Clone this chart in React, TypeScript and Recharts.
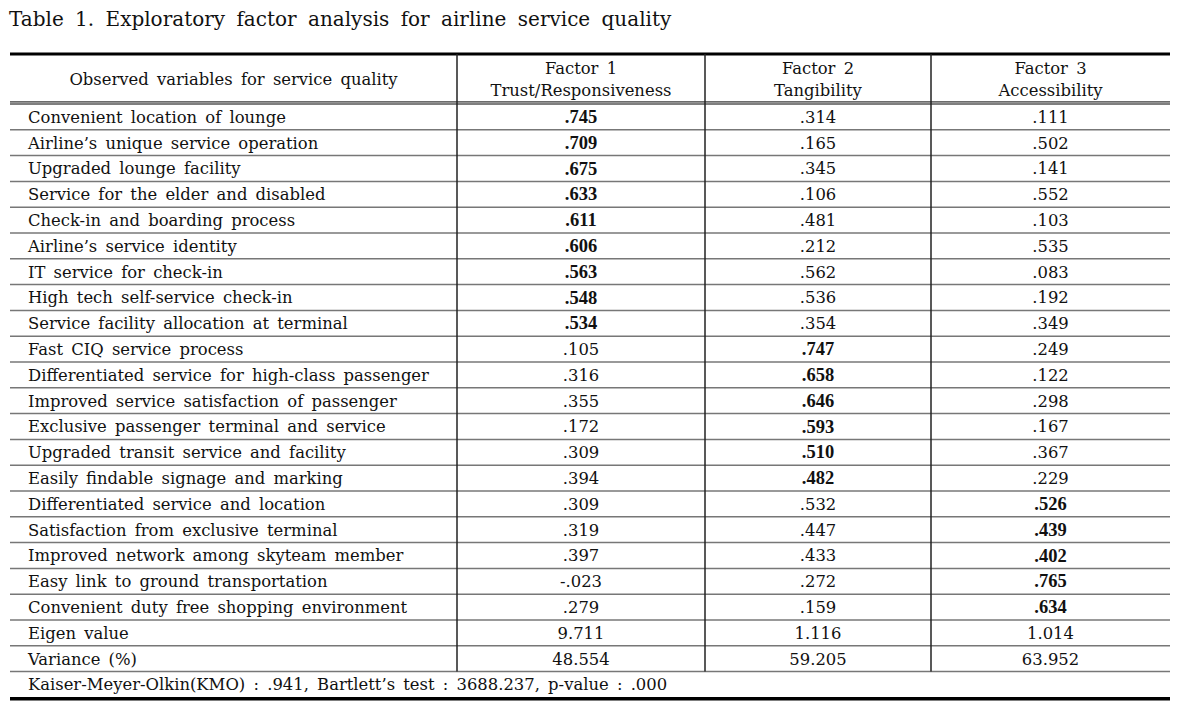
import React from "react";
import { ReferenceLine, Scatter, ScatterChart, XAxis, YAxis } from "recharts";

const variables = [
  "Convenient location of lounge",
  "Airline’s unique service operation",
  "Upgraded lounge facility",
  "Service for the elder and disabled",
  "Check-in and boarding process",
  "Airline’s service identity",
  "IT service for check-in",
  "High tech self-service check-in",
  "Service facility allocation at terminal",
  "Fast CIQ service process",
  "Differentiated service for high-class passenger",
  "Improved service satisfaction of passenger",
  "Exclusive passenger terminal and service",
  "Upgraded transit service and facility",
  "Easily findable signage and marking",
  "Differentiated service and location",
  "Satisfaction from exclusive terminal",
  "Improved network among skyteam member",
  "Easy link to ground transportation",
  "Convenient duty free shopping environment",
];

const factor1 = [0.745, 0.709, 0.675, 0.633, 0.611, 0.606, 0.563, 0.548, 0.534, 0.105, 0.316, 0.355, 0.172, 0.309, 0.394, 0.309, 0.319, 0.397, -0.023, 0.279];
const factor2 = [0.314, 0.165, 0.345, 0.106, 0.481, 0.212, 0.562, 0.536, 0.354, 0.747, 0.658, 0.646, 0.593, 0.51, 0.482, 0.532, 0.447, 0.433, 0.272, 0.159];
const factor3 = [0.111, 0.502, 0.141, 0.552, 0.103, 0.535, 0.083, 0.192, 0.349, 0.249, 0.122, 0.298, 0.167, 0.367, 0.229, 0.526, 0.439, 0.402, 0.765, 0.634];
// which factor each variable loads on (drawn bold)
const primaryFactor = [1, 1, 1, 1, 1, 1, 1, 1, 1, 2, 2, 2, 2, 2, 2, 3, 3, 3, 3, 3];

const factorTitles = ["Factor 1", "Factor 2", "Factor 3"];
const factorNames = ["Trust/Responsiveness", "Tangibility", "Accessibility"];
const eigenValues = [9.711, 1.116, 1.014];
const variances = [48.554, 59.205, 63.952];
const footnote = "Kaiser-Meyer-Olkin(KMO) : .941, Bartlett’s test : 3688.237, p-value : .000";

// layout (px)
const W = 1189;
const H = 703;
const ROW_H = 25.8;
const HEAD_BOTTOM = 104;
const colEdges = [10, 457, 705, 931, 1170];
const TEXT_LEFT = 28;
const FONT = "'DejaVu Serif', 'Liberation Serif', serif";
const BOLD_FONT = "'Liberation Serif', serif";

const fmt = (v: number) => (v < 0 ? "-" + Math.abs(v).toFixed(3).replace(/^0/, "") : v.toFixed(3).replace(/^0/, ""));
const colCenter = (i: number) => (colEdges[i] + colEdges[i + 1]) / 2;

type Cell = { x: number; y: number; text: string; bold?: boolean; anchor?: string };

const labelCells: Cell[] = [
  { x: colCenter(0), y: -0.97, text: "Observed variables for service quality", anchor: "middle" },
  ...variables.map((v, i) => ({ x: TEXT_LEFT, y: i + 0.5, text: v, anchor: "start" })),
  { x: TEXT_LEFT, y: 20.5, text: "Eigen value", anchor: "start" },
  { x: TEXT_LEFT, y: 21.5, text: "Variance (%)", anchor: "start" },
  { x: TEXT_LEFT, y: 22.5, text: footnote, anchor: "start" },
];

const factorCells = [factor1, factor2, factor3].map((vals, f) => [
  { x: colCenter(f + 1), y: -1.4, text: factorTitles[f], anchor: "middle" },
  { x: colCenter(f + 1), y: -0.54, text: factorNames[f], anchor: "middle" },
  ...vals.map((v, i) => ({ x: colCenter(f + 1), y: i + 0.5, text: fmt(v), bold: primaryFactor[i] === f + 1, anchor: "middle" })),
  { x: colCenter(f + 1), y: 20.5, text: eigenValues[f].toFixed(3), anchor: "middle" },
  { x: colCenter(f + 1), y: 21.5, text: variances[f].toFixed(3), anchor: "middle" },
]);

const renderCell = (props: any) => {
  const p = props.payload as Cell;
  return (
    <text
      x={props.cx}
      y={props.cy}
      dy={p.bold ? "0.33em" : "0.36em"}
      textAnchor={p.anchor as any}
      fontFamily={p.bold ? BOLD_FONT : FONT}
      fontSize={p.bold ? 18.5 : 16.4}
      fontWeight={p.bold ? 700 : 400}
      wordSpacing={p.bold ? 0 : 3}
      fill="#111"
    >
      {p.text}
    </text>
  );
};

const rowLines = Array.from({ length: 22 }, (_, k) => k + 1);

export default function App() {
  const yMin = -HEAD_BOTTOM / ROW_H;
  const yMax = (H - HEAD_BOTTOM) / ROW_H;
  const topY = -1.94;
  return (
    <div style={{ position: "absolute", left: 0, top: 0, width: W, height: H, background: "#fff" }}>
      <div style={{ position: "absolute", left: 9, top: 7, fontFamily: FONT, fontSize: 20, wordSpacing: 5, color: "#111", whiteSpace: "nowrap" }}>
        Table 1. Exploratory factor analysis for airline service quality
      </div>
      <ScatterChart width={W} height={H} margin={{ top: 0, right: 0, bottom: 0, left: 0 }}>
        <XAxis type="number" dataKey="x" domain={[0, W]} allowDataOverflow hide />
        <YAxis type="number" dataKey="y" domain={[yMin, yMax]} allowDataOverflow reversed hide />
        <ReferenceLine segment={[{ x: colEdges[0], y: topY }, { x: colEdges[4], y: topY }]} stroke="#000" strokeWidth={3} />
        <ReferenceLine segment={[{ x: colEdges[0], y: -0.08 }, { x: colEdges[4], y: -0.08 }]} stroke="#000" strokeWidth={1} />
        <ReferenceLine segment={[{ x: colEdges[0], y: 0 }, { x: colEdges[4], y: 0 }]} stroke="#000" strokeWidth={1} />
        {rowLines.map((k) => (
          <ReferenceLine key={k} segment={[{ x: colEdges[0], y: k }, { x: colEdges[4], y: k }]} stroke="#777" strokeWidth={1.5} />
        ))}
        <ReferenceLine segment={[{ x: colEdges[0], y: 23.05 }, { x: colEdges[4], y: 23.05 }]} stroke="#000" strokeWidth={3.5} />
        {colEdges.slice(1, 4).map((e) => (
          <ReferenceLine key={e} segment={[{ x: e, y: topY }, { x: e, y: 22 }]} stroke="#222" strokeWidth={1.5} />
        ))}
        <Scatter name="labels" data={labelCells} shape={renderCell} isAnimationActive={false} />
        {factorCells.map((cells, f) => (
          <Scatter key={f} name={factorTitles[f]} data={cells} shape={renderCell} isAnimationActive={false} />
        ))}
      </ScatterChart>
    </div>
  );
}
